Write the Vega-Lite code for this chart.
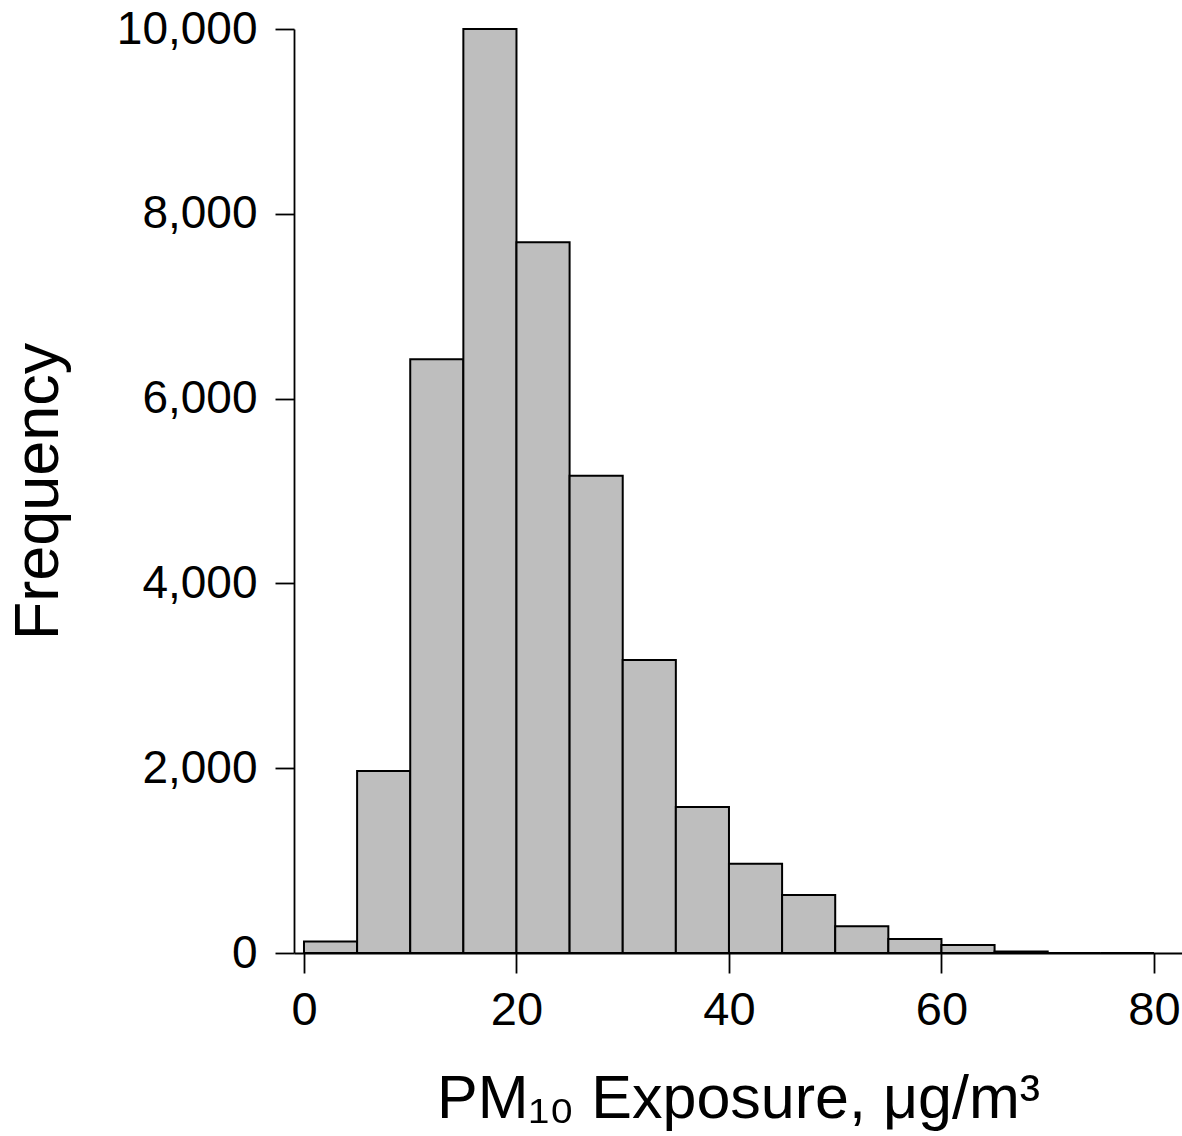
{
  "$schema": "https://vega.github.io/schema/vega-lite/v6.json",
  "autosize": {"type": "none"},
  "width": 888,
  "height": 924,
  "padding": {"left": 294, "top": 29, "right": 0, "bottom": 183},
  "background": "white",
  "config": {
    "view": {"stroke": null},
    "font": "Liberation Sans"
  },
  "data": {
    "values": [
      {"start": 0, "end": 5, "count": 125},
      {"start": 5, "end": 10, "count": 1970},
      {"start": 10, "end": 15, "count": 6425},
      {"start": 15, "end": 20, "count": 10000},
      {"start": 20, "end": 25, "count": 7692},
      {"start": 25, "end": 30, "count": 5166},
      {"start": 30, "end": 35, "count": 3171},
      {"start": 35, "end": 40, "count": 1580},
      {"start": 40, "end": 45, "count": 967},
      {"start": 45, "end": 50, "count": 628},
      {"start": 50, "end": 55, "count": 289},
      {"start": 55, "end": 60, "count": 152},
      {"start": 60, "end": 65, "count": 87},
      {"start": 65, "end": 70, "count": 15},
      {"start": 70, "end": 75, "count": 0},
      {"start": 75, "end": 80, "count": 0}
    ]
  },
  "mark": {"type": "rect", "fill": "#BEBEBE", "stroke": "black", "strokeWidth": 2},
  "encoding": {
    "x": {
      "field": "start", "type": "quantitative",
      "scale": {"domain": [-0.94, 82.64], "nice": false, "zero": false},
      "axis": {
        "values": [0, 20, 40, 60, 80],
        "format": "d",
        "title": "PM₁₀ Exposure, μg/m³",
        "titleFont": "Liberation Sans",
        "titleFontSize": 61,
        "titleFontWeight": "normal",
        "titleColor": "black",
        "titlePadding": 36,
        "labelFont": "Liberation Sans",
        "labelFontSize": 47,
        "labelColor": "black",
        "labelPadding": 14,
        "labelFlush": false,
        "tickSize": 20,
        "tickColor": "black",
        "tickWidth": 1.8,
        "domainColor": "black",
        "domainWidth": 1.8,
        "grid": false
      }
    },
    "x2": {"field": "end"},
    "y": {
      "field": "count", "type": "quantitative",
      "scale": {"domain": [0, 10000], "nice": false},
      "axis": {
        "values": [0, 2000, 4000, 6000, 8000, 10000],
        "format": ",.0f",
        "title": "Frequency",
        "titleFont": "Liberation Sans",
        "titleFontSize": 63,
        "titleFontWeight": "normal",
        "titleColor": "black",
        "titlePadding": 46,
        "labelFont": "Liberation Sans",
        "labelFontSize": 46,
        "labelColor": "black",
        "labelPadding": 18,
        "labelFlush": false,
        "tickSize": 19,
        "tickColor": "black",
        "tickWidth": 1.8,
        "domainColor": "black",
        "domainWidth": 1.8,
        "grid": false
      }
    },
    "y2": {"datum": 0}
  }
}
